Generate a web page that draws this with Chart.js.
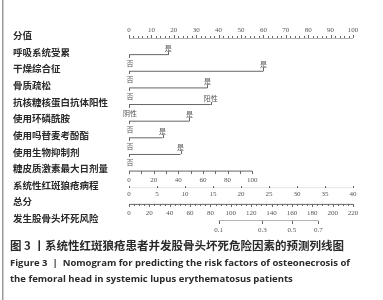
<!DOCTYPE html>
<html><head><meta charset="utf-8">
<script src="https://cdn.jsdelivr.net/npm/chart.js@4"></script>
<style>html,body{margin:0;padding:0;background:#fff;}#c{display:block;}</style>
</head><body>
<canvas id="c" width="383" height="300"></canvas>
<script>
const rowLabels = ['分值','呼吸系统受累','干燥综合征','骨质疏松','抗核糖核蛋白抗体阳性','使用环磷酰胺','使用吗替麦考酚酯','使用生物抑制剂','糖皮质激素最大日剂量','系统性红斑狼疮病程','总分','发生股骨头坏死风险'];
const pointTicks = [0,10,20,30,40,50,60,70,80,90,100];
const binaryRows = [1,2,3,4,5,6,7];
const binaryPoints = [17.5,60,35,36.5,27,15,23];
const binaryLevels = [['否','是'],['否','是'],['否','是'],['阴性','阳性'],['否','是'],['否','是'],['否','是']];
const steroidTicks = [0,20,40,60,80,100];
const steroidMaxDose = 100, steroidMaxPoints = 55;
const courseTicks = [0,5,10,15,20,25,30,35,40];
const courseMaxYears = 40, courseMaxPoints = 100;
const totalTicks = [0,20,40,60,80,100,120,140,160,180,200,220];
const riskTicks = [0.1,0.3,0.5,0.7];
const riskTotalPoints = [88,131,160,186];
const captionLines = ['图 3 丨系统性红斑狼疮患者并发股骨头坏死危险因素的预测列线图','Figure 3  |  Nomogram for predicting the risk factors of osteonecrosis of','the femoral head in systemic lupus erythematosus patients'];

const LINE = '#666';
const datasets = [];
function seg(data, axis, color){ datasets.push({data, xAxisID: axis||'x', showLine:true, borderColor: color||LINE, borderWidth:1, pointRadius:0, fill:false}); }
seg([{x:0,y:0},{x:100,y:0}]);
binaryRows.forEach((r,i)=>seg([{x:0,y:r},{x:binaryPoints[i],y:r}]));
seg([{x:0,y:8},{x:steroidMaxPoints,y:8}]);
seg([{x:0,y:9},{x:courseMaxPoints,y:9}],'x','#e4e4e4');
seg([{x:totalTicks[0],y:10},{x:totalTicks[totalTicks.length-1],y:10}],'x2');
seg([{x:riskTotalPoints[0],y:11},{x:riskTotalPoints[riskTotalPoints.length-1],y:11}],'x2');

const deco = {
  id:'deco',
  afterDraw(chart){
    const ctx = chart.ctx, X = chart.scales.x, X2 = chart.scales.x2, Y = chart.scales.y;
    ctx.save();
    ctx.fillStyle = '#9a9a9a';
    ctx.fillRect(2,0,1.5,300);
    // row labels
    ctx.fillStyle = '#2a2a2a';
    ctx.font = 'bold 9.5px "Noto Sans CJK SC"';
    ctx.textAlign = 'left'; ctx.textBaseline = 'middle';
    rowLabels.forEach((t,i)=>ctx.fillText(t, 13, Y.getPixelForValue(i)-2.5));
    const tick = (px, y, len) => { const xx = Math.round(px)+0.5; ctx.beginPath(); ctx.moveTo(xx, y); ctx.lineTo(xx, y+len); ctx.stroke(); };
    const small = (t, px, y) => { ctx.fillText(t, px, y); };
    ctx.strokeStyle = LINE; ctx.lineWidth = 1;
    ctx.fillStyle = '#555';
    ctx.font = '7px "Liberation Serif"';
    ctx.textAlign = 'center';
    // points axis
    let y0 = Math.round(Y.getPixelForValue(0));
    for(let v=0; v<=100; v+=2){ tick(X.getPixelForValue(v), y0, v%10===0 ? -3 : -2); }
    pointTicks.forEach(v=>small(String(v), X.getPixelForValue(v), y0-8));
    // binary rows
    ctx.font = '7px "Noto Sans CJK SC"';
    binaryRows.forEach((r,i)=>{
      const yy = Math.round(Y.getPixelForValue(r));
      tick(X.getPixelForValue(0), yy, 3);
      tick(X.getPixelForValue(binaryPoints[i]), yy, -3);
      small(binaryLevels[i][0], X.getPixelForValue(0)+1, yy+8);
      small(binaryLevels[i][1], X.getPixelForValue(binaryPoints[i]), yy-7);
    });
    ctx.font = '7px "Liberation Serif"';
    // steroid
    let ys = Math.round(Y.getPixelForValue(8));
    for(let d=0; d<=steroidMaxDose; d+=10){ tick(X.getPixelForValue(d/steroidMaxDose*steroidMaxPoints), ys, 3); }
    steroidTicks.forEach(d=>small(String(d), X.getPixelForValue(d/steroidMaxDose*steroidMaxPoints), ys+9));
    // course
    let yc = Math.round(Y.getPixelForValue(9));
    courseTicks.forEach(c=>{ const px = X.getPixelForValue(c/courseMaxYears*courseMaxPoints); tick(px, yc, -2); small(String(c), px, yc+6); });
    // total
    let yt = Math.round(Y.getPixelForValue(10));
    for(let v=0; v<=220; v+=5){ tick(X2.getPixelForValue(v), yt, v%20===0 ? 3 : 2); }
    totalTicks.forEach(v=>small(String(v), X2.getPixelForValue(v), yt+9));
    // risk
    let yr = Math.round(Y.getPixelForValue(11));
    riskTicks.forEach((p,i)=>{ const px = X2.getPixelForValue(riskTotalPoints[i]); tick(px, yr, 3); small(String(p), px, yr+9); });
    // caption
    ctx.textAlign = 'left';
    ctx.fillStyle = '#2a2a2a';
    ctx.font = 'bold 11.5px "Noto Sans CJK SC"';
    ctx.fillText(captionLines[0], 10, 246, 342);
    ctx.font = 'bold 9.5px "Open Sans"';
    ctx.fillText(captionLines[1], 10, 263, 342);
    ctx.fillText(captionLines[2], 10, 279, 342);
    ctx.restore();
  }
};

new Chart(document.getElementById('c'), {
  type:'scatter',
  data:{datasets},
  options:{
    responsive:false, animation:false, devicePixelRatio:1,
    layout:{padding:{left:129, right:30, top:38, bottom:79}},
    plugins:{legend:{display:false}, tooltip:{enabled:false}},
    scales:{
      x:{type:'linear', min:0, max:100, display:false},
      x2:{type:'linear', axis:'x', min:0, max:220, display:false},
      y:{type:'linear', min:0, max:11, reverse:true, display:false}
    }
  },
  plugins:[deco]
});
</script>
</body></html>
